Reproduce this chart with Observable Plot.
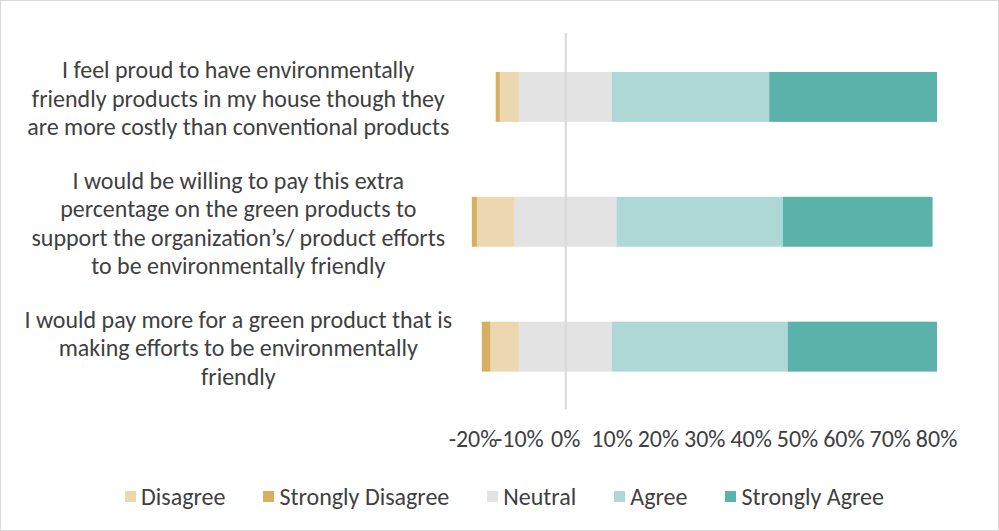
<!DOCTYPE html>
<html><head><meta charset="utf-8">
<script src="https://cdn.jsdelivr.net/npm/d3@7"></script>
<script src="https://cdn.jsdelivr.net/npm/@observablehq/plot@0.6"></script>
<style>
html,body{margin:0;padding:0;background:#fff;}
#frame{position:relative;width:999px;height:531px;box-sizing:border-box;border:1px solid #d9d9d9;overflow:hidden;font-family:Carlito, Lato, sans-serif;}
#chart{position:absolute;left:-1px;top:-1px;}
#legend{position:absolute;left:5px;top:479px;width:997px;}
#legend .lg-swatches{justify-content:center;font-size:24px;font-family:Carlito, Lato, sans-serif;color:#404040;margin:0;}
#legend .lg-swatch{margin-right:38px;}
#legend .lg-swatch:last-child{margin-right:0;}
#legend .lg-swatch > svg{margin-right:5px;}
</style></head>
<body><div id="frame"><div id="chart"></div><div id="legend"></div></div>
<script>
const questions = [
  "I feel proud to have environmentally friendly products in my house though they are more costly than conventional products",
  "I would be willing to pay this extra percentage on the green products to support the organization’s/ product efforts to be environmentally friendly",
  "I would pay more for a green product that is making efforts to be environmentally friendly"
];
const questionLabels = [
  "I feel proud to have environmentally\nfriendly products in my house though they\nare more costly than conventional products",
  "I would be willing to pay this extra\npercentage on the green products to\nsupport the organization’s/ product efforts\nto be environmentally friendly",
  "I would pay more for a green product that is\nmaking efforts to be environmentally\nfriendly"
];
const seriesOrder = ["Strongly Disagree", "Disagree", "Neutral", "Agree", "Strongly Agree"];
const stronglyDisagree = [0.9, 1.1, 1.9];
const disagree = [4.1, 8.0, 6.1];
const neutral = [20.0, 22.1, 20.0];
const agree = [34.0, 35.9, 38.0];
const stronglyAgree = [36.2, 32.3, 32.2];
const tickValues = [-20, -10, 0, 10, 20, 30, 40, 50, 60, 70, 80];
const legendOrder = ["Disagree", "Strongly Disagree", "Neutral", "Agree", "Strongly Agree"];
const legendColors = ["#EBD8B0", "#D7AF60", "#E3E3E3", "#AED8D5", "#5BB2AA"];

const FONT = "Carlito, Lato, sans-serif";
const TEXT = "#404040";

const rows = [];
questions.forEach((q, i) => {
  const vals = [stronglyDisagree[i], disagree[i], neutral[i], agree[i], stronglyAgree[i]];
  let start = -(neutral[i] / 2 + disagree[i] + stronglyDisagree[i]);
  seriesOrder.forEach((s, j) => {
    rows.push({q, s, x1: start, x2: start + vals[j]});
    start += vals[j];
  });
});

const chart = Plot.plot({
  width: 999,
  height: 470,
  marginLeft: 473,
  marginRight: 62,
  marginTop: 33,
  marginBottom: 60,
  style: {fontFamily: FONT, fontSize: "24px", color: TEXT, background: "transparent"},
  x: {domain: [-20, 80], label: null},
  y: {domain: questions, paddingInner: 0.6, paddingOuter: 0.3, axis: null, label: null},
  color: {domain: legendOrder, range: legendColors},
  marks: [
    Plot.barX(rows, {y: "q", x1: "x1", x2: "x2", fill: "s"}),
    Plot.ruleX([0], {stroke: "#d9d9d9", strokeWidth: 2}),
    Plot.axisX({ticks: tickValues, tickFormat: d => d + "%", tickSize: 0, tickPadding: 20, fontSize: 24, fill: TEXT, label: null}),
    Plot.text(questions, {y: d => d, text: (d, i) => questionLabels[i], frameAnchor: "left", dx: -235, textAnchor: "middle", lineHeight: 1.19, fontSize: 24, fill: TEXT})
  ]
});
document.getElementById("chart").appendChild(chart);

const legend = Plot.legend({
  color: {domain: legendOrder, range: legendColors},
  legend: "swatches",
  swatchSize: 11,
  className: "lg"
});
document.getElementById("legend").appendChild(legend);
</script>
</body></html>
